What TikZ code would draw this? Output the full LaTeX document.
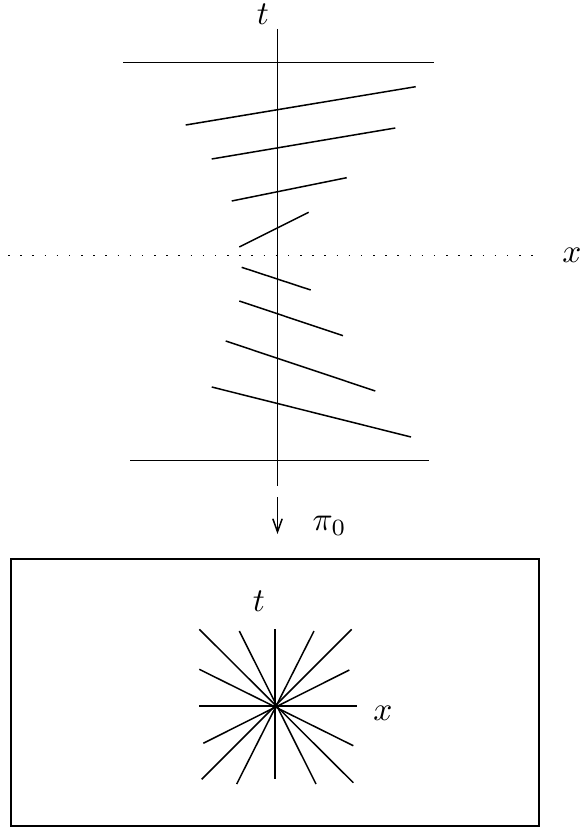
\documentclass[tikz,border=0pt]{standalone}
\usetikzlibrary{arrows.meta,calc}
\begin{document}
\begin{tikzpicture}[x=0.3pt,y=-0.3pt,
  ln/.style={line width=0.45pt},
  dots/.style={line width=0.45pt,dash pattern=on 0.45pt off 3.2pt},
  lbl/.style={inner sep=0pt}]
\useasboundingbox (0,0) rectangle (582,831);
% axes of the top picture
\coordinate (ttop) at (277.5,29);
\coordinate (tbot) at (277.5,486);
\draw[ln] (ttop) -- (tbot);
\node[lbl] (tlabel) at (263,14) {$t$};
\coordinate (xl) at (8,255.5);
\coordinate (xr) at (542,255.5);
\draw[dots] (xl) -- (xr);
\node[lbl] (xlabel) at (572,255.5) {$x$};
% horizontal lines
\draw[ln] (123,62.7) -- (434,62.7);
\draw[ln] (130,460.7) -- (429,460.7);
% slanted lines above
\draw[ln] (185.7,125) -- (415.7,86.7);
\draw[ln] (211.7,159) -- (395.3,128);
\draw[ln] (231.7,201) -- (346.7,177.7);
\draw[ln] (239.3,247) -- (308.7,212.3);
% slanted lines below
\draw[ln] (241.7,267.3) -- (310.7,290);
\draw[ln] (239.3,301) -- (343,335.7);
\draw[ln] (225.7,341) -- (375.3,391);
\draw[ln] (211.7,387) -- (411,437);
% projection arrow
\coordinate (as) at (277.5,497);
\coordinate (ae) at (277.5,534);
\draw[ln,-{Straight Barb[length=3.9pt,width=2.8pt]}] (as) -- (ae);
\node[lbl,anchor=base west] (pi) at (312,530) {$\pi_0$};
% lower box
\node[draw,line width=0.45pt,minimum width=528*0.3pt,minimum height=267*0.3pt,inner sep=0pt] (box) at (275,692.5) {};
\coordinate (c) at (275,706);
\foreach \a/\b/\cc/\d in {-75.7/-76.7/78.3/76.7, -35.7/-75/41/78, 0/-76.7/0/73, 39/-75/-38.3/78, 76.7/-76.7/-73.3/73.3, -75.7/-36.7/78.3/39.7, 74.3/-36/-71.7/37.3, -75.7/0/81.7/0}{
  \draw[ln] ($(c)+(\a,\b)$) -- ($(c)+(\cc,\d)$);
}
\node[lbl] (tb) at (259,601.5) {$t$};
\node[lbl] (xb) at (383,713.5) {$x$};
\end{tikzpicture}
\end{document}
